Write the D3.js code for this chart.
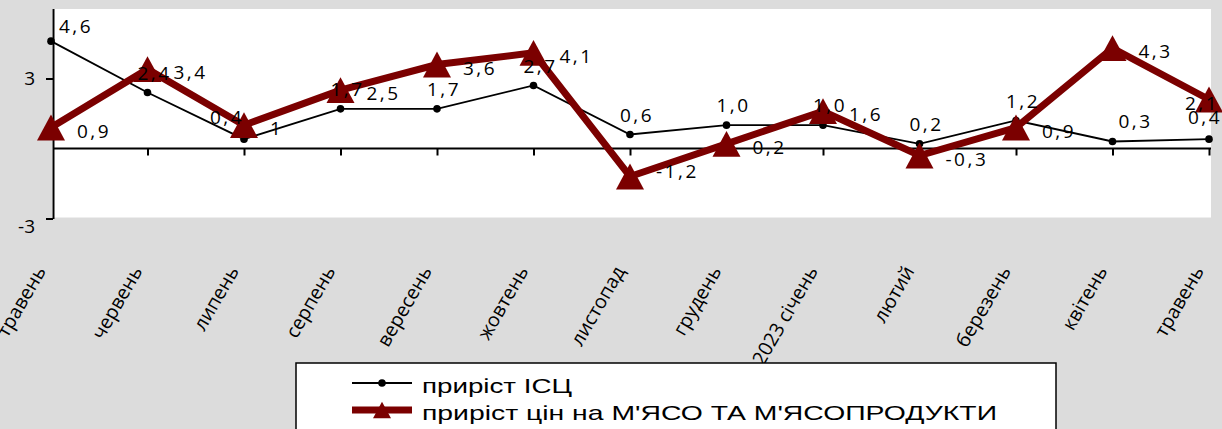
<!DOCTYPE html>
<html><head><meta charset="utf-8">
<script src="https://cdn.jsdelivr.net/npm/d3@7"></script>
<style>
body{margin:0;background:#dcdcdc;}
svg{display:block;}
.lbl{font-family:'Open Sans',sans-serif;}
</style>
</head><body>
<svg id="chart" width="1222" height="429"></svg>
<script>
// ---- data ----
const months = ["травень","червень","липень","серпень","вересень","жовтень","листопад","грудень","2023 січень","лютий","березень","квітень","травень"];
const cpiValues = [4.6, 2.4, 0.4, 1.7, 1.7, 2.7, 0.6, 1.0, 1.0, 0.2, 1.2, 0.3, 0.4];
const meatValues = [0.9, 3.4, 1, 2.5, 3.6, 4.1, -1.2, 0.2, 1.6, -0.3, 0.9, 4.3, 2.1];
const cpiLabels = ["4,6","2,4","0,4","1,7","1,7","2,7","0,6","1,0","1,0","0,2","1,2","0,3","0,4"];
const meatLabels = ["0,9","3,4","1","2,5","3,6","4,1","-1,2","0,2","1,6","-0,3","0,9","4,3","2,1"];
const yTicks = [-3, 3];
const seriesNames = ["приріст ІСЦ", "приріст цін на М'ЯСО ТА М'ЯСОПРОДУКТИ"];

// ---- layout / style ----
const MAROON = "#7b0000";
const svg = d3.select("#chart");
const idx = d3.range(months.length);
const x = d3.scalePoint().domain(idx).range([51, 1209]);
const y = d3.scaleLinear().domain([-3, 6]).range([218.5, 8.5]);

// label nudges (dx, dy, anchor) for individual data labels
const cpiNudge = {0:{dx:8,dy:-8,a:"start"}, 2:{dx:-17,dy:-15}, 11:{dx:23,dy:-14}, 12:{dx:-4,dy:-15}};
const meatNudge = {6:{dy:1}, 12:{dx:-24}};

// plot area
svg.append("rect").attr("x", 52).attr("y", 9).attr("width", 1159).attr("height", 208.5).attr("fill", "#fff");

// y axis
const yAxis = svg.append("g").attr("transform", "translate(53,0)")
  .call(d3.axisLeft(y).tickValues(yTicks).tickSize(7).tickSizeOuter(0).tickPadding(11).tickFormat(d => d));
yAxis.select(".domain").attr("stroke", "#000").attr("stroke-width", 2);
yAxis.selectAll(".tick line").attr("stroke", "#000").attr("stroke-width", 2);
yAxis.selectAll(".tick text").attr("class", "lbl").attr("font-size", 19).attr("fill", "#000")
  .attr("dy", d => d < 0 ? "0.75em" : "0.32em");

// x axis (zero line with ticks)
const xAxis = svg.append("g").attr("transform", `translate(0,${y(0)})`)
  .call(d3.axisBottom(x).tickSize(7).tickSizeOuter(0).tickFormat(""));
xAxis.select(".domain").attr("d", `M53,0H1211`).attr("stroke", "#000").attr("stroke-width", 2);
xAxis.selectAll(".tick line").attr("stroke", "#000").attr("stroke-width", 2);
xAxis.selectAll(".tick").filter(d => d === 0).remove();

// x category labels (rotated)
const xLab = svg.append("g").attr("transform", "translate(-5,271)")
  .call(d3.axisBottom(x).tickSize(0).tickPadding(0).tickFormat(i => months[i]));
xLab.select(".domain").remove();
xLab.selectAll(".tick text")
  .attr("class", "lbl").attr("font-size", 19.5).attr("fill", "#000")
  .attr("text-anchor", "end").attr("dy", 0).attr("y", 0)
  .attr("transform", "rotate(-60)");

// lines
const line = d3.line().x((d, i) => x(i)).y(d => y(d));
svg.append("path").datum(cpiValues).attr("d", line)
  .attr("fill", "none").attr("stroke", "#000").attr("stroke-width", 1.8);
svg.append("g").selectAll("circle").data(cpiValues).join("circle")
  .attr("cx", (d, i) => x(i)).attr("cy", d => y(d)).attr("r", 3.8).attr("fill", "#000");

svg.append("path").datum(meatValues).attr("d", line)
  .attr("fill", "none").attr("stroke", MAROON).attr("stroke-width", 7).attr("stroke-linejoin", "miter");

// triangle symbol with its bounding box centered on the point
const triCentered = { draw(ctx, size) { const w = Math.sqrt(size); const h = w * 0.46;
  ctx.moveTo(0, -h); ctx.lineTo(w / 2, h); ctx.lineTo(-w / 2, h); ctx.closePath(); } };
svg.append("g").selectAll("path").data(meatValues).join("path")
  .attr("d", d3.symbol(triCentered, 784))
  .attr("transform", (d, i) => `translate(${x(i)},${y(d)})`)
  .attr("fill", MAROON);

// data labels
const lblFont = g => g.attr("class", "lbl").attr("font-size", 19).attr("fill", "#000").attr("letter-spacing", 2.5);
svg.append("g").call(lblFont).selectAll("text").data(cpiValues).join("text")
  .attr("x", (d, i) => x(i) + ((cpiNudge[i] && cpiNudge[i].dx !== undefined) ? cpiNudge[i].dx : 7))
  .attr("y", (d, i) => y(d) + ((cpiNudge[i] && cpiNudge[i].dy !== undefined) ? cpiNudge[i].dy : -13))
  .attr("text-anchor", (d, i) => (cpiNudge[i] && cpiNudge[i].a) || "middle")
  .text((d, i) => cpiLabels[i]);
svg.append("g").call(lblFont).selectAll("text").data(meatValues).join("text")
  .attr("x", (d, i) => x(i) + ((meatNudge[i] && meatNudge[i].dx !== undefined) ? meatNudge[i].dx : 26))
  .attr("y", (d, i) => y(d) + ((meatNudge[i] && meatNudge[i].dy !== undefined) ? meatNudge[i].dy : 10))
  .attr("text-anchor", "start")
  .text((d, i) => meatLabels[i]);

// legend
const lg = svg.append("g");
lg.append("rect").attr("x", 296).attr("y", 363).attr("width", 760).attr("height", 90)
  .attr("fill", "#fff").attr("stroke", "#000").attr("stroke-width", 1.5);
lg.append("line").attr("x1", 352).attr("x2", 412).attr("y1", 383).attr("y2", 383).attr("stroke", "#000").attr("stroke-width", 1.8);
lg.append("circle").attr("cx", 382).attr("cy", 383).attr("r", 3.8).attr("fill", "#000");
lg.append("line").attr("x1", 352).attr("x2", 412).attr("y1", 410).attr("y2", 410).attr("stroke", MAROON).attr("stroke-width", 7);
lg.append("path").attr("d", d3.symbol(triCentered, 324)).attr("transform", "translate(382,410)").attr("fill", MAROON);
const legendLens = [150, 575];
lg.selectAll("text.lt").data(seriesNames).join("text").attr("class", "lt")
  .attr("x", 422).attr("y", (d, i) => 392.5 + i * 27)
  .attr("font-family", "'Liberation Sans', Arial, sans-serif").attr("font-size", 21).attr("fill", "#000")
  .attr("textLength", (d, i) => legendLens[i]).attr("lengthAdjust", "spacingAndGlyphs")
  .text(d => d);
</script>
</body></html>
